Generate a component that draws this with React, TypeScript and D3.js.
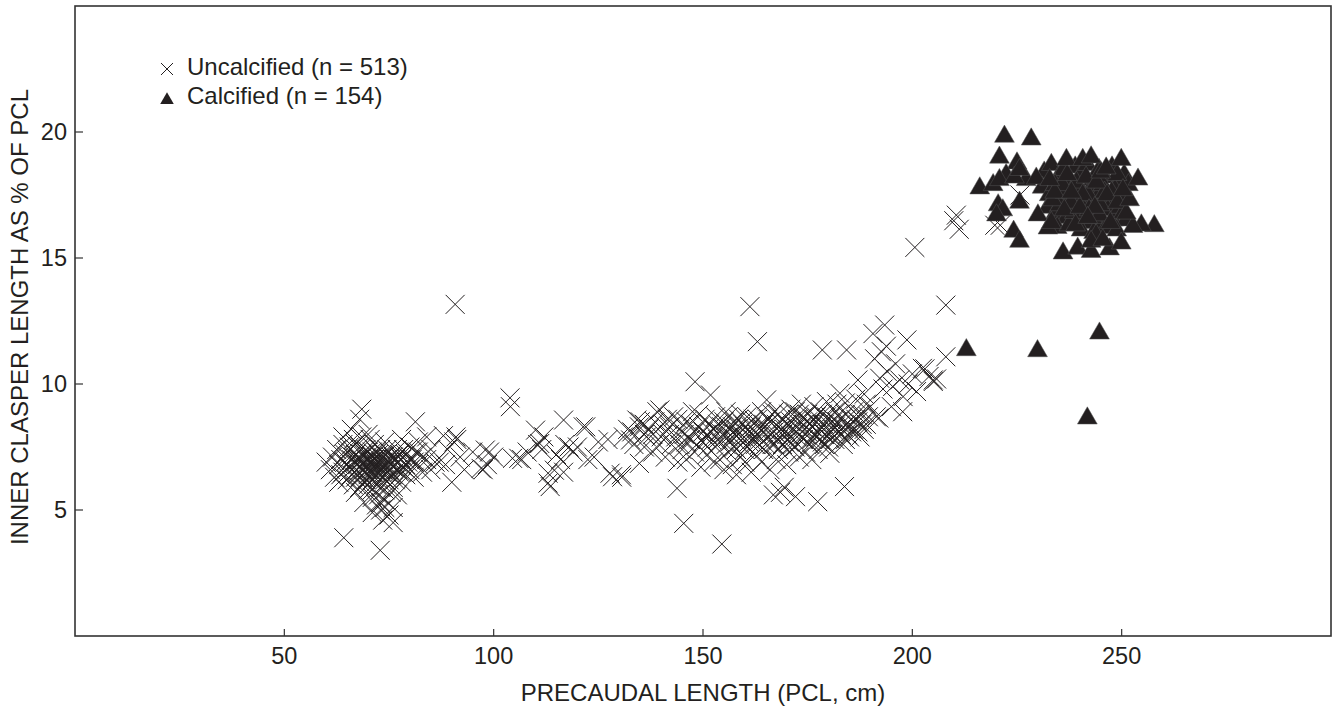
import React from 'react';
import * as d3 from 'd3';

// ---------- data (PCL cm, inner clasper length % of PCL) ----------
const xTicks = [50, 100, 150, 200, 250];
const yTicks = [5, 10, 15, 20];
const xTitle = 'PRECAUDAL LENGTH (PCL, cm)';
const yTitle = 'INNER CLASPER LENGTH AS % OF PCL';
const legendLabels = ['Uncalcified (n = 513)', 'Calcified (n = 154)'];

const uncalcifiedJuvenile: [number, number][] = [
  [60,6.9],[61,6.6],[61.5,7.1],[62,6.3],[62.5,7.4],[63,6.8],[63,6.1],[63.5,7.0],[64,6.5],[64,7.6],[64.5,6.9],[65,6.2],[65,7.3],[65.5,6.7],[66,7.0],[66,6.4],[66.5,7.8],[66.5,6.0],[67,6.9],[67,7.2],[67.5,6.5],[67.5,6.8],[68,7.0],[68,6.3],[68,7.5],[68.5,6.6],[68.5,7.9],[69,6.9],[69,7.2],[69,6.1],[69.5,6.7],[69.5,7.4],[70,7.0],[70,6.4],[70,6.8],[70,5.8],[70.5,7.1],[70.5,6.6],[71,6.9],[71,7.3],[71,6.2],[71,5.5],[71.5,6.7],[71.5,7.6],[72,7.0],[72,6.5],[72,6.8],[72,5.2],[72.5,7.2],[72.5,6.3],[73,6.9],[73,7.4],[73,5.9],[73,5.0],[73.5,6.6],[73.5,7.1],[74,6.8],[74,6.2],[74,7.7],[74,5.4],[74.5,7.0],[74.5,6.5],[75,6.9],[75,7.3],[75,4.8],[75.5,6.4],[75.5,5.7],[76,7.1],[76,6.7],[76,5.1],[76.5,6.2],[77,7.4],[77,6.9],[77,5.6],[77.5,6.5],[78,7.0],[78,7.8],[78,6.1],[78.5,6.7],[79,7.2],[79,6.4],[79.5,6.9],[80,7.5],[80,6.6],[80.5,7.0],[81,6.3],[81.3,8.5],[81.5,7.3],[82,6.8],[82,7.7],[83,7.1],[83,6.5],[84,7.0],[84,7.9],[85,6.6],[85,7.4],[86,6.9],[66,8.2],[68,8.6],[68.5,9.0],[70,8.0],[64,7.9],[67,5.7],[69,5.3],[71,4.9],[73.5,4.6],[76,4.5],[74,5.8],[72,6.0],[70.5,7.8],[64.2,3.9],[72.9,3.4],
  [63.5,6.4],[64.5,7.2],[65,6.8],[65.5,7.5],[66,6.6],[66.5,7.1],[67,6.3],[67,7.6],[67.5,7.0],[68,6.7],[68.5,7.2],[68.5,6.4],[69,6.6],[69.5,7.0],[69.5,6.2],[70,7.3],[70,6.6],[70.5,6.9],[70.5,6.3],[71,7.1],[71,6.5],[71.5,7.0],[71.5,6.3],[72,7.3],[72,6.7],[72.5,6.9],[72.5,6.5],[73,7.1],[73,6.6],[73.5,6.9],[73.5,6.3],[74,7.2],[74,6.6],[74.5,6.8],[74.5,7.4],[75,6.6],[75,6.2],[75.5,7.1],[75.5,6.8],[76,6.4],[76.5,7.0],[77,6.6],[77.5,7.2],[78,6.5],[78.5,7.4],[79,6.8],[80,7.0],[81,6.9],[82,7.3],[71,5.8],[72.5,5.6],[74,5.1],[70,6.0],[68,5.9],[76,5.9],[73,5.3]
];

const uncalcifiedTransition: [number, number][] = [
  [87,6.9],[88,7.95],[88.5,6.8],[89,7.4],[90,6.1],[90.5,7.7],[90.8,13.16],[91,7.9],[91.2,7.8],[92,7.1],[93,6.6],[95,7.3],[97,6.65],[97.5,6.6],[98,7.38],[98.5,6.8],[99,7.3],[100,7.1],[103.9,9.45],[104,9.1],[104.5,7.05],[106,7.05],[106.7,7.0],[108,7.3],[110,8.17],[110.5,7.6],[111,7.64],[111.5,7.4],[112,7.9],[113,6.07],[113.5,5.93],[113,6.46],[114.5,6.58],[115,7.2],[116,7.0],[116.7,8.57],[116.7,6.5],[117,7.6],[118,7.5],[119,7.3],[120,7.5],[121.4,8.3],[122,8.3],[122.5,7.0],[124,7.1],[125,7.7],[127.3,7.8],[127.8,6.46],[128.4,6.32],[130.5,6.4],[130.6,6.3]
];

const uncalcifiedAdolescent: [number, number][] = [
  [131,7.9],[132.7,7.78],[133,8.1],[134.2,8.57],[134.8,8.3],[134.8,6.85],[135,8.5],[136,8.4],[136,7.5],[137,8.2],[138,7.3],[139,8.9],[139.7,8.97],[140,7.9],[140.5,8.4],[141,7.1],[142,8.0],[142.5,7.6],[143,8.7],[143.8,5.86],[144,6.9],[144.5,8.2],[145,7.4],[145.4,4.47],[146,8.5],[146,7.0],[147,7.8],[147.5,8.9],[148.1,10.09],[148,7.3],[149,8.3],[149.5,6.7],[150,7.7],[150.5,8.6],[151,7.2],[151.8,9.56],[152,8.1],[152.5,6.9],[153,7.5],[153.5,8.4],[154,7.0],[154.5,3.65],[155,8.0],[155,6.6],[155.5,7.6],[156,8.7],[156,7.3],[156.5,8.2],[157,6.8],[157,7.9],[157.5,8.5],[158,7.4],[158,6.4],[158.5,8.0],[159,8.8],[159,7.1],[159.5,7.7],[160,8.3],[160,6.9],[160.5,7.5],[161,8.1],[161.2,13.07],[161.5,6.5],[162,7.8],[162,8.6],[162.5,7.2],[163,11.68],[163,8.3],[163.5,7.6],[164,8.9],[164,6.9],[164.5,7.4],[165,8.2],[165.2,9.37],[165.5,7.9],[166,6.6],[166,8.5],[166.8,5.6],[167,7.6],[167,8.1],[167.5,7.0],[168,8.8],[168,7.4],[168.5,5.7],[169,8.0],[169.4,5.9],[169.5,7.7],[170,8.4],[170,6.8],[170.5,7.3],[171,9.0],[171,7.9],[171.5,8.2],[172,7.5],[172.1,5.53],[172.5,8.6],[173,7.1],[173,8.0],[173.5,9.2],[174,7.8],[174,8.4],[174.5,7.3],[175,8.1],[175,8.8],[175.5,7.6],[176,8.3],[176,7.0],[176.5,9.1],[177,7.9],[177,8.5],[177.4,5.33],[177.5,7.4],[178,8.2],[178.5,11.35],[178,8.9],[178.5,7.7],[179,8.4],[179.5,9.3],[180,8.0],[180,7.5],[180.3,7.25],[180.5,8.7],[181,8.2],[181.5,7.8],[182,8.5],[182,9.2],[182.7,9.63],[183,8.0],[183.5,7.6],[183.8,5.93],[184,8.8],[184,9.25],[184.3,11.35],[184.5,8.3],[185,7.9],[185.5,8.6],[186,8.2],[186.5,9.4],[187,8.5],[187.5,7.9],[188,8.8],[188.5,9.6],[189,8.4],
  [146.5,7.9],[147,8.4],[148.5,7.6],[149,8.8],[150,8.1],[151,7.5],[151.5,8.4],[152,7.8],[153,8.7],[154,7.7],[154.5,8.3],[155.5,8.9],[156,7.9],[157,8.3],[157.5,7.5],[158.5,8.6],[159,7.9],[160,7.4],[160.5,8.7],[161,7.7],[162,8.0],[163,8.6],[163.5,7.9],[164.5,8.4],[165,7.6],[166,8.0],[166.5,8.8],[167.5,8.4],[168,7.8],[169,8.6],[169.5,8.2],[170.5,7.7],[171,8.5],[172,8.9],[172.5,7.9],[173.5,8.3],[174,8.7],[175,7.7],[175.5,8.4],[176.5,8.0],[177,8.7],[178,7.8],[178.5,8.4],[179,8.0],[179.5,8.7],[180.5,7.8],[181,8.5],[181.5,8.9],[182.5,8.1],[183,8.6],[184,7.8],[185,8.3],[186,8.9],[187,8.1],[188,8.4],[189,9.2],[136.5,7.9],[138.5,8.5],[139.5,7.6],[141.5,8.6],[143.5,7.9],[144,8.6],[145.5,8.0],
  [150.5,7.9],[152.5,8.2],[153.5,7.8],[155,8.5],[156.5,7.7],[158,8.2],[159.5,8.4],[160.5,8.0],[161.5,8.3],[162.5,7.6],[163,8.0],[164,8.2],[165.5,8.6],[166.5,7.6],[167,8.9],[168.5,8.2],[169,7.6],[170,8.0],[170.5,8.8],[171.5,7.6],[172.5,8.3],[173,8.8],[174.5,8.0],[175,8.5],[176,7.8],[176.5,8.6],[177.5,8.1],[178.5,8.8],[179,7.6],[180,8.4],[181,8.0],[181.5,8.3],[182.5,8.8],[183.5,8.3],[184.5,8.0],[185.5,8.1],[186.5,8.6],[187.5,8.8],[188.5,8.2],[189.5,8.7],[157.5,8.0],[154,8.1],[151,8.0],[148,8.1],[146,7.7],[144.5,7.6],[142,8.3],[140.5,8.0],[138,8.0],[136,8.0],[133.5,7.6],[132,8.2]
];

const uncalcifiedMaturing: [number, number][] = [
  [187,10.16],[190,9.1],[190.6,12.0],[191,11.0],[191.4,8.7],[192,8.65],[192.2,10.23],[192.6,11.28],[193,9.8],[193.4,12.34],[193.8,11.5],[194,10.5],[195,9.1],[195.3,9.9],[196,10.8],[197,10.16],[197.7,8.9],[197.8,9.5],[198.7,11.75],[199,10.0],[200,10.4],[200.6,15.42],[201,9.7],[202.4,10.62],[203,10.6],[204,10.3],[205,10.16],[205.8,10.2],[205,10.1],[208,13.13],[208,11.08],[209.9,16.48],[211.2,16.14],[210.5,16.7],[219.7,16.3],[225.7,17.5],[221,16.3]
];

const calcifiedCore: [number, number][] = [
  [231.5,18.4],[233.2,18.7],[234.8,18.2],[236.1,18.5],[237.6,18.0],[238.9,18.6],[240.2,18.3],[241.8,18.7],[243.1,18.1],[244.6,18.5],[246.0,18.2],[247.7,18.6],[249.2,18.0],[250.6,18.3],
  [231.0,17.8],[232.7,17.5],[234.1,17.9],[235.6,17.4],[237.2,17.8],[238.4,17.3],[239.9,17.7],[241.3,17.2],[242.7,17.8],[244.2,17.4],[245.5,17.9],[247.0,17.3],[248.4,17.7],[250.0,17.4],[251.6,17.9],
  [232.3,17.0],[233.9,16.7],[235.2,17.1],[236.8,16.6],[238.1,17.0],[239.6,16.5],[241.0,16.9],[242.4,16.4],[243.8,16.8],[245.3,16.3],[246.7,16.9],[248.1,16.5],[249.6,17.0],[251.0,16.5],
  [234.6,16.2],[237.4,16.3],[240.3,16.1],[243.3,16.0],[246.2,16.2],[248.8,16.1],
  [233.5,17.3],[236.5,17.6],[239.2,18.0],[242.0,17.5],[244.9,17.1],[247.6,17.6],[240.7,17.5],[238.7,16.8],[243.0,16.6],[245.9,17.6],
  [235.8,17.9],[237.9,17.2],[241.5,18.2],[244.0,18.0],[246.5,17.5],[248.9,18.3],[250.4,16.8],[236.3,16.9],[239.0,16.3],[242.2,16.9],[244.7,16.7],[247.3,16.4],[234.0,17.6],[249.0,17.2],[240.0,17.0],[237.0,18.3],[243.6,17.0],[245.0,18.4],[238.0,17.6],[241.9,16.6]
];

const calcifiedEdge: [number, number][] = [
  [216.1,17.77],[222.0,19.82],[228.4,19.71],[220.8,18.99],[225.0,18.76],[219.3,17.9],[222.4,18.3],[220.8,18.1],[227.2,18.1],[224.4,18.2],[229.6,18.16],[232.8,18.1],[225.6,18.5],[220.5,17.1],[221.6,16.9],[220.1,16.7],[225.6,17.2],[224.2,16.05],[225.6,15.65],[230.0,16.7],[232.4,16.18],[233.2,16.4],[236.8,18.9],[240.7,18.9],[242.7,19.0],[249.9,18.9],[246.3,18.56],[253.9,18.12],[257.8,16.27],[254.7,16.3],[252.7,16.24],[251.1,16.77],[251.9,17.3],[250.3,17.7],[236.0,15.19],[239.5,15.38],[242.7,15.25],[247.1,15.35],[249.9,15.58],[243.9,15.91],[242.7,15.65],[245.5,15.71]
];

const calcifiedOutliers: [number, number][] = [
  [212.9,11.35],[229.9,11.31],[244.7,12.01],[241.8,8.64]
];

const uncalcified = [...uncalcifiedJuvenile, ...uncalcifiedTransition, ...uncalcifiedAdolescent, ...uncalcifiedMaturing];
const calcified = [...calcifiedCore, ...calcifiedEdge, ...calcifiedOutliers];

// ---------- chart ----------
const W = 1338;
const H = 707;
const M = { left: 75, right: 1331, top: 6, bottom: 636 };
const INK = '#231f20';
const FONT = '"Liberation Sans", Arial, Helvetica, sans-serif';

export default function App() {
  const x = d3.scaleLinear().domain([0, 300]).range([M.left, M.right]);
  const y = d3.scaleLinear().domain([0, 25]).range([M.bottom, M.top]);
  const tri = d3.symbol().type(d3.symbolTriangle).size(170)() as string;
  const triLegend = d3.symbol().type(d3.symbolTriangle).size(80)() as string;
  const cross = (h: number) => `M${-h},${-h}L${h},${h}M${-h},${h}L${h},${-h}`;

  return (
    <div style={{ position: 'fixed', left: 0, top: 0, width: W, height: H, background: '#fff' }}>
      <svg width={W} height={H} style={{ display: 'block' }} fontFamily={FONT}>
        <rect x={0} y={0} width={W} height={H} fill="#fff" />
        {/* points */}
        <g>
          {uncalcified.map((d, i) => (
            <path key={'u' + i} d={cross(9.5)} transform={`translate(${x(d[0])},${y(d[1])})`} stroke={INK} strokeWidth={1} fill="none" />
          ))}
          {calcified.map((d, i) => (
            <path key={'c' + i} d={tri} transform={`translate(${x(d[0])},${y(d[1])})`} fill={INK} stroke="#555" strokeWidth={0.5} />
          ))}
        </g>
        {/* frame */}
        <rect x={M.left} y={M.top} width={M.right - M.left} height={M.bottom - M.top} fill="none" stroke="#333" strokeWidth={1.6} />
        {/* x ticks */}
        {xTicks.map((t) => (
          <g key={'xt' + t}>
            <line x1={x(t)} x2={x(t)} y1={M.bottom} y2={M.bottom - 7} stroke="#333" strokeWidth={1.2} />
            <text x={x(t)} y={664} textAnchor="middle" fontSize={23.5} fill={INK}>{t}</text>
          </g>
        ))}
        {/* y ticks */}
        {yTicks.map((t) => (
          <g key={'yt' + t}>
            <line x1={M.left} x2={M.left + 8} y1={y(t)} y2={y(t)} stroke="#333" strokeWidth={1.2} />
            <text x={M.left - 8} y={y(t)} dy="0.36em" textAnchor="end" fontSize={23.5} fill={INK}>{t}</text>
          </g>
        ))}
        {/* axis titles */}
        <text x={(M.left + M.right) / 2} y={701} textAnchor="middle" fontSize={24} fill={INK}>{xTitle}</text>
        <text transform={`translate(28,317) rotate(-90)`} textAnchor="middle" fontSize={24} fill={INK}>{yTitle}</text>
        {/* legend */}
        <path d={cross(6)} transform="translate(167,69)" stroke={INK} strokeWidth={1} fill="none" />
        <text x={187} y={75} fontSize={24} fill={INK}>{legendLabels[0]}</text>
        <path d={triLegend} transform="translate(167,100)" fill={INK} />
        <text x={187} y={104} fontSize={24} fill={INK}>{legendLabels[1]}</text>
      </svg>
    </div>
  );
}
